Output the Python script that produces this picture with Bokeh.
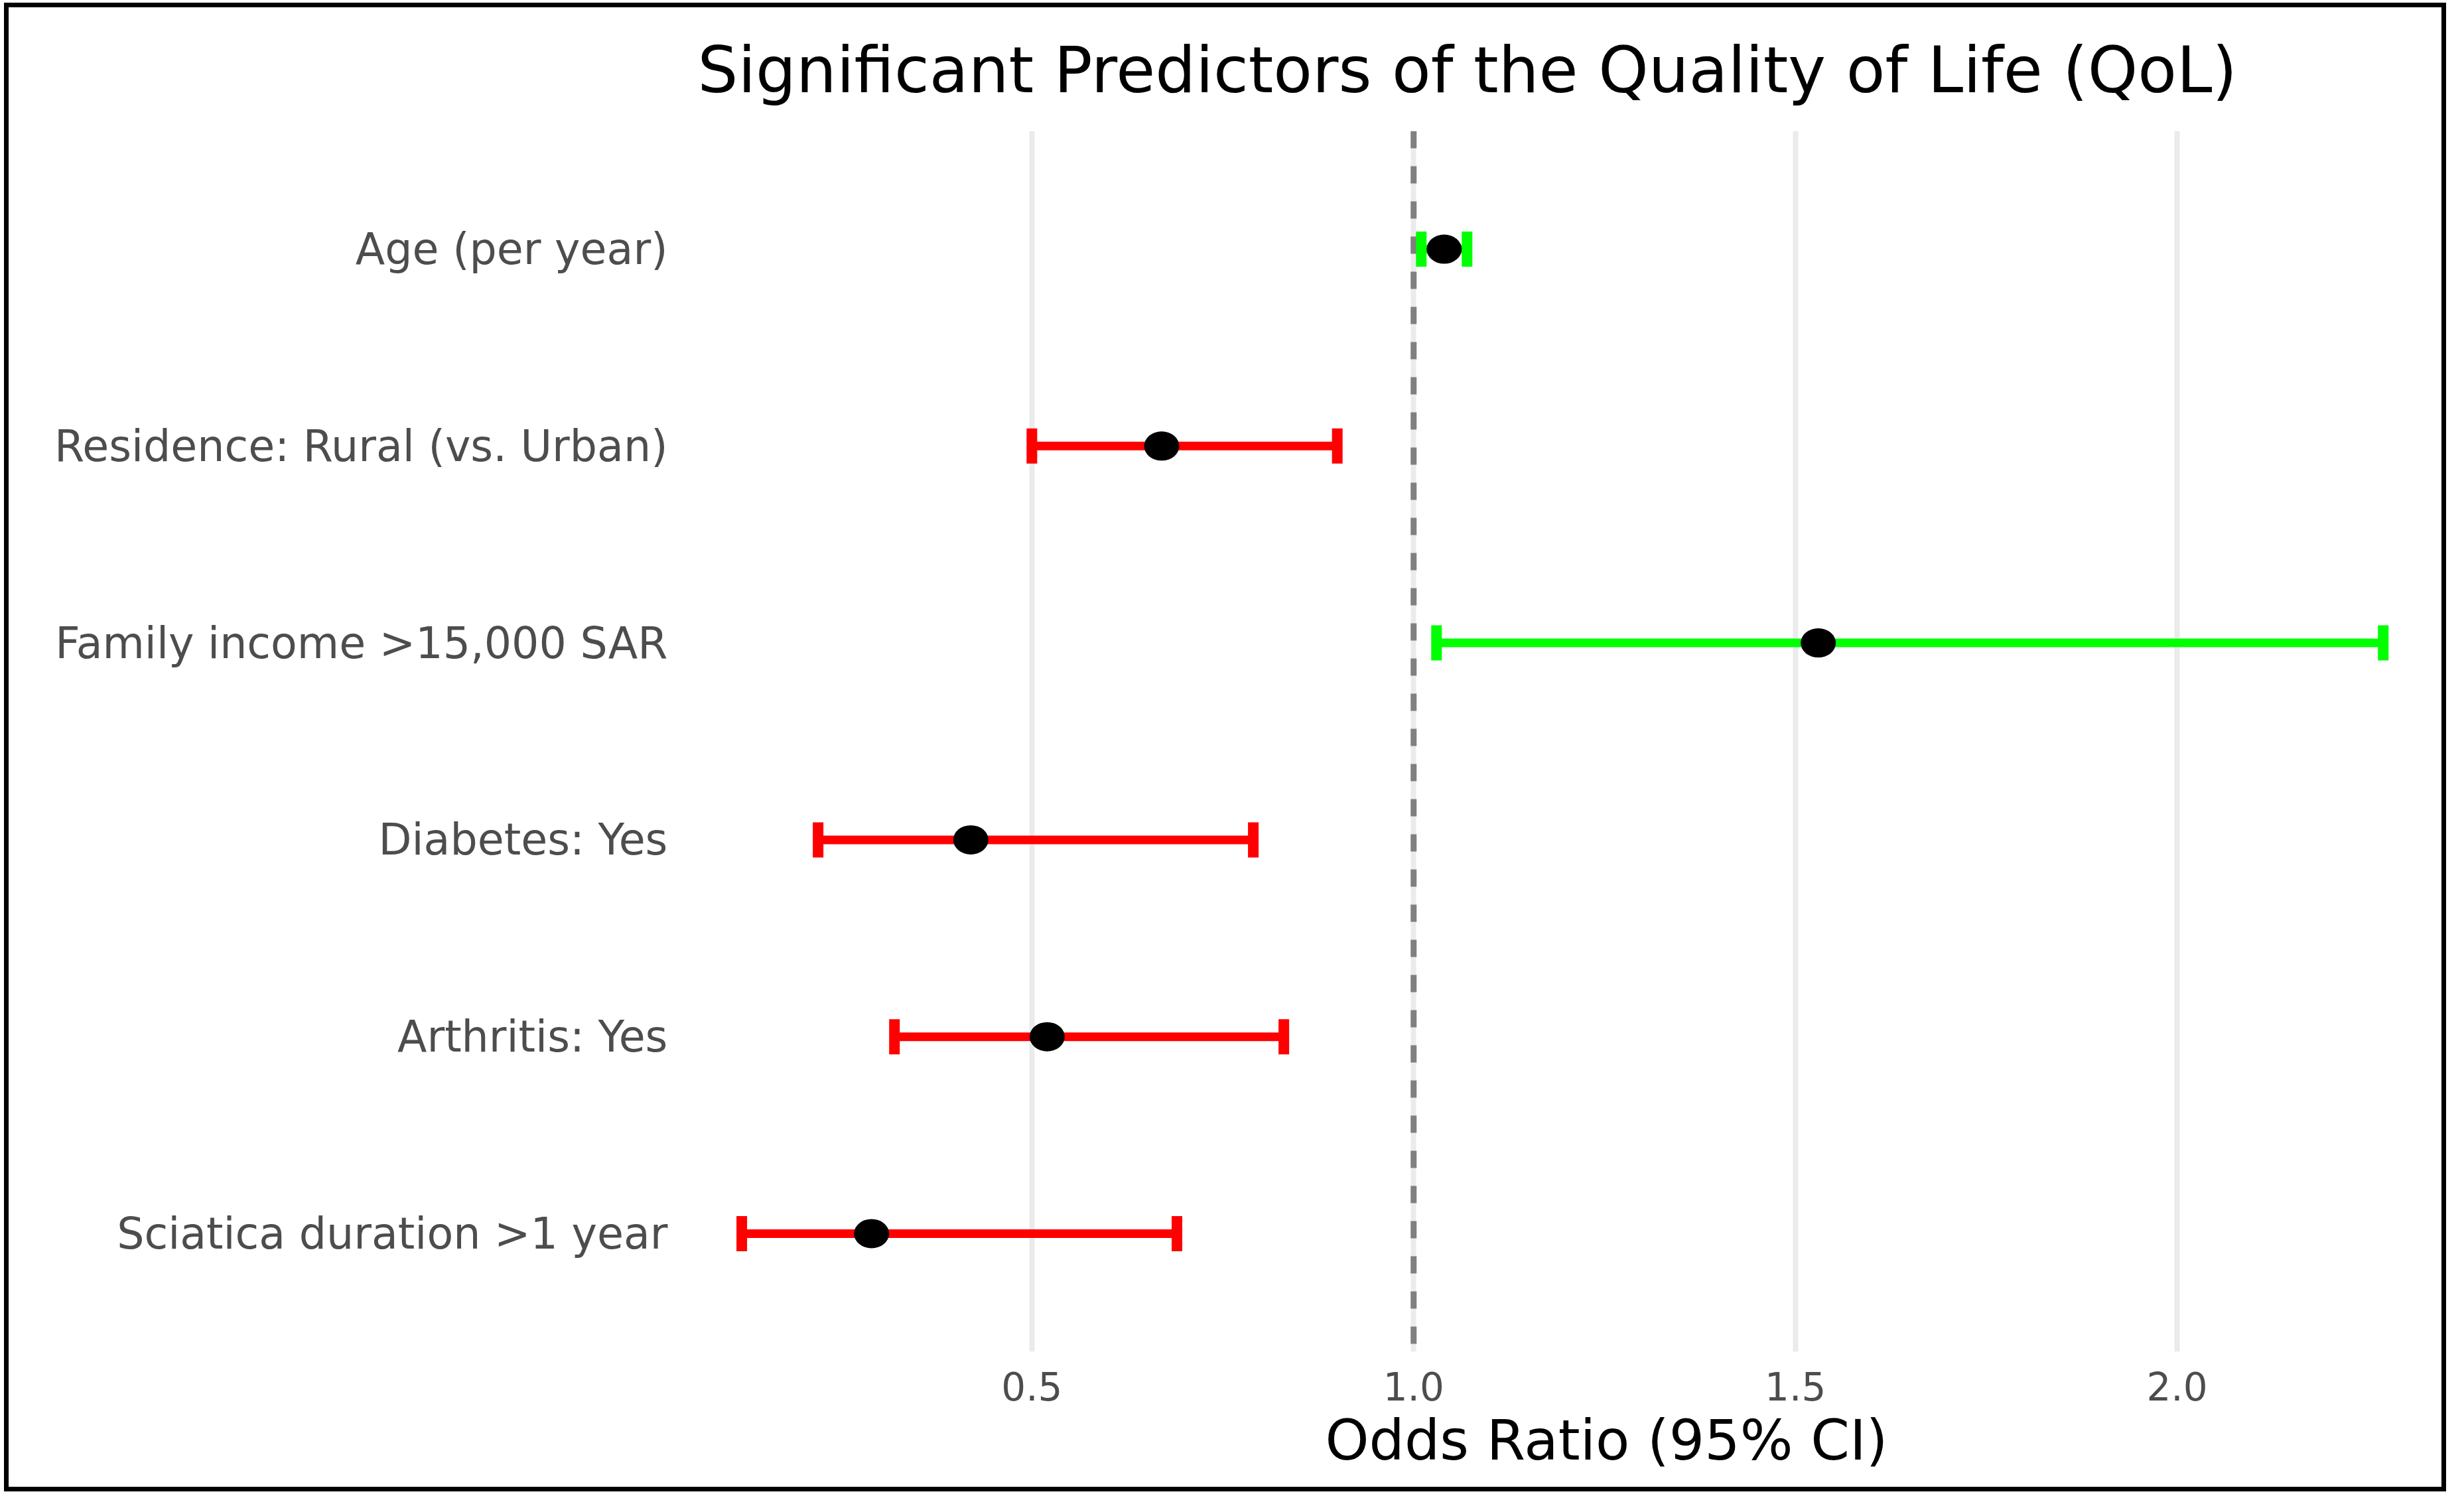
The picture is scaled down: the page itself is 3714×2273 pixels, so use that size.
from bokeh.plotting import figure
from bokeh.models import FactorRange, Range1d, FixedTicker, Span, Title, ColumnDataSource, PrintfTickFormatter
from bokeh.embed import file_html
from bokeh.resources import INLINE

terms = ["Age (per year)", "Residence: Rural (vs. Urban)", "Family income >15,000 SAR",
         "Diabetes: Yes", "Arthritis: Yes", "Sciatica duration >1 year"]
odds_ratio = [1.04, 0.67, 1.53, 0.42, 0.52, 0.29]
ci_lower = [1.01, 0.50, 1.03, 0.22, 0.32, 0.12]
ci_upper = [1.07, 0.90, 2.27, 0.79, 0.83, 0.69]
x_ticks = [0.5, 1.0, 1.5, 2.0]

colors = ["#00FF00" if o > 1 else "#FF0000" for o in odds_ratio]
src = ColumnDataSource(dict(term=terms, orr=odds_ratio, lo=ci_lower, hi=ci_upper, color=colors))

FONT = "DejaVu Sans"

p = figure(width=3681, height=2244,
           y_range=FactorRange(factors=terms[::-1], range_padding=0.2 / 6),
           x_range=Range1d(0.0387, 2.351),
           output_backend="svg", toolbar_location=None,
           min_border_left=1011, min_border_right=9, min_border_top=186, min_border_bottom=218)

p.styles = {"border": "7px solid black", "margin-left": "6px", "margin-top": "4px"}
p.outline_line_color = None
p.background_fill_color = "white"
p.border_fill_color = "white"

# title
p.title.text = "Significant Predictors of the Quality of Life (QoL)"
p.title.text_font = FONT
p.title.text_font_size = "96px"
p.title.text_font_style = "normal"
p.title.text_color = "black"
p.title.align = "left"
p.title.vertical_align = "bottom"
p.title.offset = 27
p.title.standoff = 71

# x axis
p.xaxis.ticker = FixedTicker(ticks=x_ticks)
p.xaxis.formatter = PrintfTickFormatter(format="%.1f")
p.xaxis.axis_line_color = None
p.xaxis.major_tick_line_color = None
p.xaxis.minor_tick_line_color = None
p.xaxis.major_tick_out = 0
p.xaxis.major_tick_in = 0
p.xaxis.major_label_text_font = FONT
p.xaxis.major_label_text_font_size = "58px"
p.xaxis.major_label_text_color = "#4D4D4D"
p.xaxis.major_label_standoff = 30

xt = Title(text="Odds Ratio (95% CI)", align="left", offset=973,
           text_font=FONT, text_font_size="84px", text_font_style="normal",
           text_color="black", standoff=13)
p.add_layout(xt, "below")

# y axis
p.yaxis.axis_line_color = None
p.yaxis.major_tick_line_color = None
p.yaxis.minor_tick_line_color = None
p.yaxis.major_tick_out = 0
p.yaxis.major_tick_in = 0
p.yaxis.major_label_text_font = FONT
p.yaxis.major_label_text_font_size = "65px"
p.yaxis.major_label_text_color = "#4D4D4D"
p.yaxis.major_label_standoff = 18

# grid
p.ygrid.visible = False
p.xgrid.grid_line_color = "#EBEBEB"
p.xgrid.grid_line_width = 8

# reference line at OR = 1
vline = Span(location=1.0, dimension="height", line_color="#808080", line_width=9,
             line_dash="26 27", level="underlay")
p.add_layout(vline)

# error bars
p.segment(x0="lo", y0="term", x1="hi", y1="term", line_width=13, line_color="color", source=src)
p.rect(x="lo", y="term", width=16, height=53, width_units="screen", height_units="screen",
       fill_color="color", line_color=None, source=src)
p.rect(x="hi", y="term", width=16, height=53, width_units="screen", height_units="screen",
       fill_color="color", line_color=None, source=src)

# points
p.ellipse(x="orr", y="term", width=53, height=44, width_units="screen", height_units="screen",
          fill_color="black", line_color=None, source=src)

open("out.html", "w").write(file_html(p, INLINE))
